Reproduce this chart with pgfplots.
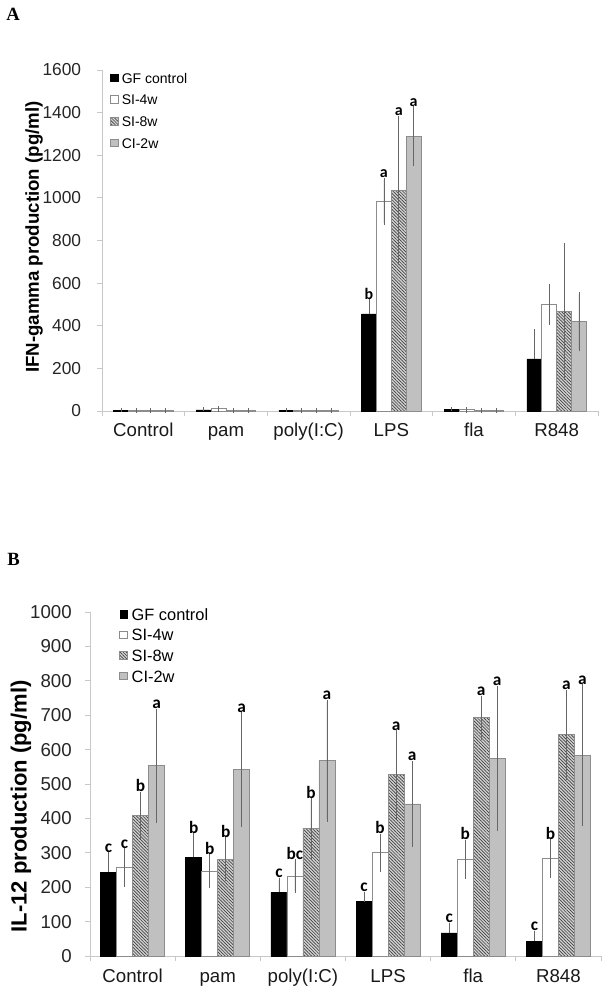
\documentclass[border=0pt]{standalone}
\usepackage{pgfplots}
\pgfplotsset{compat=1.18}
\usepackage{pgfplotstable}
\usepackage{fontspec}
\setmainfont{Liberation Sans}
\newfontfamily\serifbf{Liberation Serif}
\newfontfamily\carlito{Carlito}
\usetikzlibrary{patterns.meta}
\definecolor{barborder}{HTML}{8C8C8C}
\definecolor{greybar}{HTML}{C0C0C0}
\definecolor{errc}{HTML}{666666}
\definecolor{axisc}{HTML}{C8C8C8}

\pgfplotstableread{
x gf gfe si4 si4e si8 si8e ci cie
0 3 2 4 2 3 2 2 1
1 5 3 10 4 3 2 4 2
2 4 2 4 2 3 2 3 1
3 456 58 983 100 1035 340 1289 130
4 6 3 6 3 3 2 3 1
5 245 128 500 86 467 313 420 127
}\dataA

\pgfplotstableread{
x gf gfe si4 si4e si8 si8e ci cie
0 243 52 257 50 408 62 553 160
1 287 63 247 42 282 58 542 161
2 185 36 232 43 371 82 568 171
3 158 22 300 49 528 123 442 118
4 67 24 281 50 693 58 575 205
5 43 24 283 50 643 124 584 200
}\dataB

\pgfplotsset{
  common/.style={
    scale only axis,
    axis x line*=bottom, axis y line*=left,
    axis line style={axisc,-,line width=0.6pt},
    tick style={axisc,line width=0.6pt},
    tick align=outside,
    xmin=-0.5, xmax=5.5, ymin=0,
    xtick={-0.5,0.5,1.5,2.5,3.5,4.5,5.5},
    xticklabels={,,,,,,},
    major tick length=3.5pt,
    extra x ticks={0,1,2,3,4,5},
    extra x tick labels={Control,pam,poly(I:C),LPS,fla,R848},
    extra x tick style={major tick length=0pt, tick style={draw=none}},
    /pgf/number format/assume math mode=true,
    /pgf/number format/1000 sep={},
    clip=false,
    legend cell align=left,
    legend image code/.code={\draw[##1] (0pt,-2.8pt) rectangle (5.6pt,2.8pt);},
    error bars/error bar style={errc,line width=0.5pt},
    error bars/error mark options={errc,mark size=1.6pt,line width=0.5pt},
  },
  sgf/.style={ybar, bar shift=0pt, fill=black, draw=black, line width=0.4pt},
  ssi4/.style={ybar, bar shift=0pt, fill=white, draw=barborder, line width=0.6pt},
  ssi8/.style={ybar, bar shift=0pt, fill=gray!35, draw=barborder, line width=0.6pt,
     postaction={pattern={Lines[angle=-45,distance=1.7pt,line width=0.5pt]}, pattern color=black!75}},
  sci/.style={ybar, bar shift=0pt, fill=greybar, draw=barborder, line width=0.6pt},
}

\begin{document}
\begin{tikzpicture}
\path[use as bounding box] (0,0) rectangle (456.75pt,-747.75pt);
\node[anchor=north west,inner sep=0pt,font=\serifbf\bfseries\fontsize{14}{14}\selectfont] at (4.5pt,-6pt) {A};
\node[anchor=north west,inner sep=0pt,font=\serifbf\bfseries\fontsize{14}{14}\selectfont] at (5.25pt,-414.75pt) {B};

% ---------- Panel A ----------
\begin{axis}[common,
  at={(76.5pt,-308.25pt)}, anchor=south west,
  width=372pt, height=255.75pt,
  ymax=1600, ytick={0,200,...,1600},
  bar width=0.18,
  every y tick label/.style={font=\fontsize{13}{13}\selectfont, text=black!85, inner sep=0pt, anchor=east, xshift=-12pt},
  xticklabel style={font=\fontsize{14}{14}\selectfont, text=black!90, anchor=north, inner sep=0pt, text height=10pt, text depth=3pt},
  xticklabel shift=9pt,
  ylabel={IFN-gamma production (pg/ml)},
  ylabel style={font=\bfseries\fontsize{14}{14}\selectfont, at={(axis description cs:-0.137,0.51)}, anchor=center, rotate=0},
  legend style={draw=none, fill=none, at={(axis description cs:0.016,0.993)}, anchor=north west,
     font=\fontsize{10.5}{10.5}\selectfont, row sep=8.2pt, inner sep=0pt,
     nodes={inner sep=0pt, text height=8pt, text depth=0pt},
     /tikz/every odd column/.style={column sep=2.5pt}},
]
\addplot[sgf, error bars/.cd, y dir=plus, y explicit] table[x expr=\thisrow{x}-0.27, y=gf, y error=gfe] {\dataA};
\addlegendentry{GF control}
\addplot[ssi4, error bars/.cd, y dir=both, y explicit] table[x expr=\thisrow{x}-0.09, y=si4, y error=si4e] {\dataA};
\addlegendentry{SI-4w}
\addplot[ssi8, error bars/.cd, y dir=both, y explicit] table[x expr=\thisrow{x}+0.09, y=si8, y error=si8e] {\dataA};
\addlegendentry{SI-8w}
\addplot[sci, error bars/.cd, y dir=both, y explicit] table[x expr=\thisrow{x}+0.27, y=ci, y error=cie] {\dataA};
\addlegendentry{CI-2w}
\addplot[draw=none, mark=none, forget plot, nodes near coords, point meta=explicit symbolic,
  nodes near coords style={font=\carlito\bfseries\fontsize{12}{12}\selectfont, anchor=south, inner sep=1.5pt}]
  coordinates {(2.73,514)[b] (2.91,1084)[a] (3.09,1374)[a] (3.27,1416)[a]};
\end{axis}

% ---------- Panel B ----------
\begin{axis}[common,
  at={(67.5pt,-717pt)}, anchor=south west,
  width=383.25pt, height=258pt,
  ymax=1000, ytick={0,100,...,1000},
  bar width=0.188,
  every y tick label/.style={font=\fontsize{14}{14}\selectfont, text=black!85, inner sep=0pt, anchor=east, xshift=-10pt},
  xticklabel style={font=\fontsize{14}{14}\selectfont, text=black!90, anchor=north, inner sep=0pt, text height=10pt, text depth=3pt},
  xticklabel shift=10pt,
  ylabel={IL-12 production (pg/ml)},
  ylabel style={font=\bfseries\fontsize{16.5}{16.5}\selectfont, at={(axis description cs:-0.135,0.435)}, anchor=center, rotate=0},
  legend style={draw=none, fill=none, at={(axis description cs:0.057,1.012)}, anchor=north west,
     font=\fontsize{12.3}{12.3}\selectfont, row sep=6.5pt, inner sep=0pt,
     nodes={inner sep=0pt, text height=9pt, text depth=0pt},
     /tikz/every odd column/.style={column sep=3pt}},
]
\addplot[sgf, error bars/.cd, y dir=plus, y explicit] table[x expr=\thisrow{x}-0.282, y=gf, y error=gfe] {\dataB};
\addlegendentry{GF control}
\addplot[ssi4, error bars/.cd, y dir=both, y explicit] table[x expr=\thisrow{x}-0.094, y=si4, y error=si4e] {\dataB};
\addlegendentry{SI-4w}
\addplot[ssi8, error bars/.cd, y dir=both, y explicit] table[x expr=\thisrow{x}+0.094, y=si8, y error=si8e] {\dataB};
\addlegendentry{SI-8w}
\addplot[sci, error bars/.cd, y dir=both, y explicit] table[x expr=\thisrow{x}+0.282, y=ci, y error=cie] {\dataB};
\addlegendentry{CI-2w}
\addplot[draw=none, mark=none, forget plot, nodes near coords, point meta=explicit symbolic,
  nodes near coords style={font=\carlito\bfseries\fontsize{13}{13}\selectfont, anchor=south, inner sep=1.5pt}]
  coordinates {
  (-0.282,295)[c] (-0.094,306)[c] (0.094,470)[b] (0.282,714)[a]
  (0.718,350)[b] (0.906,288)[b] (1.094,339)[b] (1.282,702)[a]
  (1.718,221)[c] (1.906,275)[bc] (2.094,452)[b] (2.282,739)[a]
  (2.718,180)[c] (2.906,349)[b] (3.094,650)[a] (3.282,561)[a]
  (3.718,91)[c] (3.906,331)[b] (4.094,750)[a] (4.282,780)[a]
  (4.718,67)[c] (4.906,333)[b] (5.094,767)[a] (5.282,782)[a]
  };
\end{axis}
\end{tikzpicture}
\end{document}
